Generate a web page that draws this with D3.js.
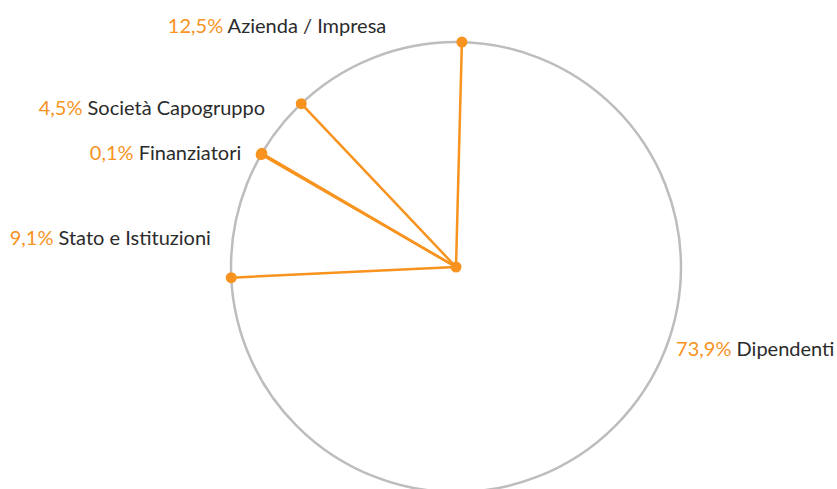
<!DOCTYPE html>
<html>
<head>
<meta charset="utf-8">
<script src="https://cdn.jsdelivr.net/npm/d3@7"></script>
<style>
  html, body { margin: 0; padding: 0; background: #fff; }
  svg { display: block; }
  text { font-family: "Gill Sans", "Gill Sans MT", Lato, sans-serif; font-size: 20px; }
</style>
</head>
<body>
<svg id="chart" width="837" height="489"></svg>
<script>
// Shares by stakeholder, in drawing order (clockwise from the top)
const categories = ["Dipendenti", "Stato e Istituzioni", "Finanziatori", "Società Capogruppo", "Azienda / Impresa"];
const shares = [73.9, 9.1, 0.1, 4.5, 12.5];
const shareLabels = ["73,9%", "9,1%", "0,1%", "4,5%", "12,5%"];

// Layout
const width = 837, height = 489;
const cx = 456, cy = 267, radius = 225, labelRadius = 245;
const startDeg = 1.5;
const labelNudge = [[45, -90], [-7, 28], [-3, 8], [1, -8], [18, -13]];
const orange = "#f7931e", grey = "#bdbdbd", ink = "#2b2b2b";

const svg = d3.select("#chart");
const g = svg.append("g").attr("transform", `translate(${cx},${cy})`);

const data = categories.map((c, i) => ({ name: c, value: shares[i], label: shareLabels[i], i }));
const start = startDeg * Math.PI / 180;
const pie = d3.pie().sort(null).value(d => d.value).startAngle(start).endAngle(start + 2 * Math.PI);
const arcs = pie(data);

// Outer ring
g.append("circle").attr("r", radius)
  .attr("fill", "none").attr("stroke", grey).attr("stroke-width", 2.5);

const pt = (a, r) => [r * Math.sin(a), -r * Math.cos(a)];

// Slice boundaries: a radial spoke to each slice's start and end angle
const spokes = [];
arcs.forEach(a => { spokes.push(a.startAngle); spokes.push(a.endAngle); });
const uniq = [];
spokes.forEach(s => {
  const n = ((s % (2 * Math.PI)) + 2 * Math.PI) % (2 * Math.PI);
  if (!uniq.some(u => Math.abs(u - n) < 1e-9)) uniq.push(n);
});

g.selectAll("line.spoke").data(uniq).join("line")
  .attr("class", "spoke")
  .attr("x1", 0).attr("y1", 0)
  .attr("x2", a => pt(a, radius)[0]).attr("y2", a => pt(a, radius)[1])
  .attr("stroke", orange).attr("stroke-width", 2.5).attr("stroke-linecap", "round");

g.selectAll("circle.dot").data(uniq).join("circle")
  .attr("class", "dot")
  .attr("cx", a => pt(a, radius)[0]).attr("cy", a => pt(a, radius)[1])
  .attr("r", 5.5).attr("fill", orange);

g.append("circle").attr("r", 5.5).attr("fill", orange);

// Labels
const labels = g.selectAll("text.lbl").data(arcs).join("text")
  .attr("class", "lbl")
  .attr("dominant-baseline", "central")
  .each(function (a) {
    const mid = (a.startAngle + a.endAngle) / 2;
    const p = pt(mid, labelRadius);
    const nd = labelNudge[a.data.i];
    const right = Math.sin(mid) > 0;
    d3.select(this)
      .attr("x", p[0] + nd[0]).attr("y", p[1] + nd[1])
      .attr("text-anchor", right ? "start" : "end");
  });
labels.append("tspan").attr("fill", orange).text(a => a.data.label);
labels.append("tspan").attr("fill", ink).text(a => " " + a.data.name);
</script>
</body>
</html>
